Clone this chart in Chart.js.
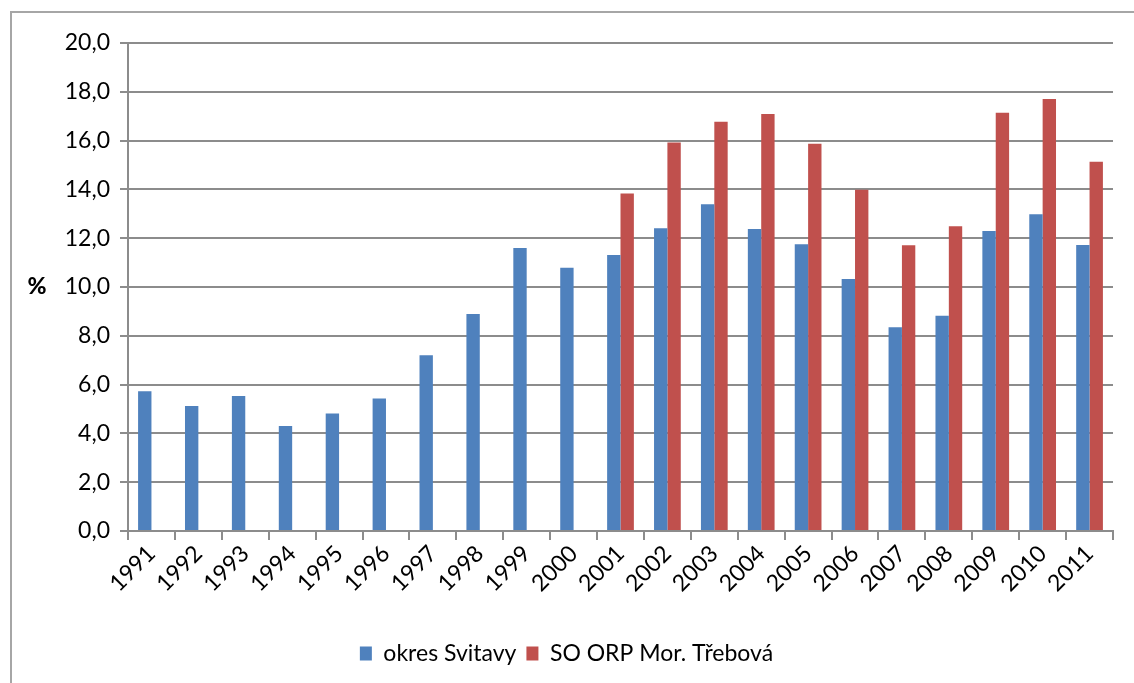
<!DOCTYPE html>
<html>
<head>
<meta charset="utf-8">
<script src="https://cdn.jsdelivr.net/npm/chart.js@4/dist/chart.umd.min.js"></script>
<style>
  html, body { margin: 0; padding: 0; background: #fff; overflow: hidden; }
  #wrap { position: relative; width: 1134px; height: 683px; }
  #frame { position: absolute; left: 10px; top: 11px; width: 1200px; height: 800px; border: 2px solid #a6a6a6; }
  canvas { position: absolute; left: 0; top: 0; }
</style>
</head>
<body>
<div id="wrap">
  <div id="frame"></div>
  <canvas id="c" width="1134" height="683"></canvas>
</div>
<script>
"use strict";
var years = ["1991","1992","1993","1994","1995","1996","1997","1998","1999","2000","2001","2002","2003","2004","2005","2006","2007","2008","2009","2010","2011"];
var okresSvitavy = [5.73, 5.12, 5.53, 4.30, 4.82, 5.43, 7.20, 8.89, 11.60, 10.79, 11.31, 12.41, 13.39, 12.38, 11.75, 10.33, 8.35, 8.82, 12.30, 12.98, 11.72];
var soOrpMorTrebova = [null, null, null, null, null, null, null, null, null, null, 13.83, 15.92, 16.77, 17.09, 15.87, 13.99, 11.71, 12.49, 17.14, 17.70, 15.13];
var seriesNames = ["okres Svitavy", "SO ORP Mor. Třebová"];
var yTitle = "%";

var font = "Lato, 'Open Sans', sans-serif";
var gridColor = "#8c8c8c";

// horizontal "%" title left of the value axis
var yTitlePlugin = {
  id: "yTitle",
  afterDraw: function (chart) {
    var ctx = chart.ctx;
    var y = chart.scales.y;
    ctx.save();
    ctx.font = "900 23px " + font;
    ctx.fillStyle = "#000";
    ctx.textAlign = "center";
    ctx.textBaseline = "middle";
    ctx.fillText(yTitle, 37, y.getPixelForValue(10));
    ctx.restore();
  }
};

new Chart(document.getElementById("c"), {
  type: "bar",
  data: {
    labels: years,
    datasets: [
      { label: seriesNames[0], data: okresSvitavy, backgroundColor: "#4F81BD" },
      { label: seriesNames[1], data: soOrpMorTrebova, backgroundColor: "#C0504D" }
    ]
  },
  options: {
    responsive: false,
    animation: false,
    categoryPercentage: 0.57,
    barPercentage: 1.0,
    layout: { padding: { left: 20, right: 21, top: 43, bottom: 8 } },
    plugins: {
      tooltip: { enabled: false },
      legend: {
        position: "bottom",
        labels: { color: "#000", font: { family: font, size: 23 }, boxWidth: 12, boxHeight: 14, padding: 10 }
      }
    },
    scales: {
      x: {
        grid: { display: true, drawOnChartArea: false, offset: true, tickLength: 9, color: gridColor, lineWidth: 2 },
        border: { color: gridColor, width: 2 },
        ticks: { color: "#000", font: { family: font, size: 23 }, minRotation: 45, maxRotation: 45, padding: 0 },
        afterFit: function (s) { s.height = 101; }
      },
      y: {
        min: 0,
        max: 20,
        ticks: {
          stepSize: 2,
          color: "#000",
          font: { family: font, size: 23 },
          padding: 10,
          callback: function (v) { return v.toFixed(1).replace(".", ","); }
        },
        grid: { color: gridColor, lineWidth: 2, tickLength: 8 },
        border: { color: gridColor, width: 2 },
        afterFit: function (s) { s.width = 108; }
      }
    }
  },
  plugins: [yTitlePlugin]
});
</script>
</body>
</html>
